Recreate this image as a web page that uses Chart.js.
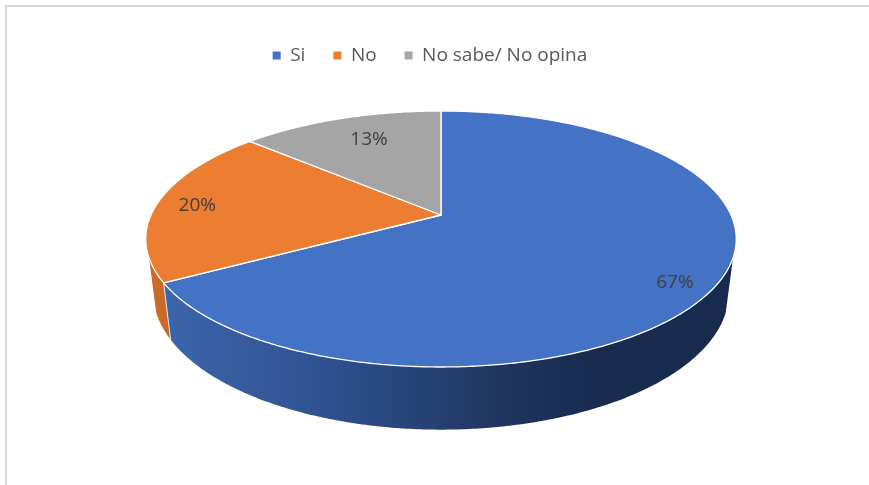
<!DOCTYPE html>
<html><head><meta charset="utf-8">
<style>html,body{margin:0;padding:0;background:#fff}canvas{display:block}</style>
<script src="https://cdn.jsdelivr.net/npm/chart.js@4"></script></head>
<body><canvas id="c" width="869" height="485"></canvas>
<script>
const categories = ["Si", "No", "No sabe/ No opina"];
const values = [66.7, 20, 13.3];
const tickLabels = ["67%", "20%", "13%"];
const topColors = ["#4472c4", "#ed7d31", "#a5a5a5"];
const wallColors = [null, "#c96a28", "#7f7f7f"];

// Tilted-disc projection of the unit circle
const view = {cx: 441, cy: 215, a: 290, b: 123.5, k: 0.1875,
              lowX: 0.975, lowY: 1.07, drop: 52,
              wallFrom: 19 * Math.PI / 180, wallTo: 161 * Math.PI / 180};
const labelRadius = [0.885, 0.855, 0.74];
const labelNudge = [4.2, -1.2, 1.7];

function upperPt(a, r = 1) {
  const u = r * Math.cos(a), v = r * Math.sin(a), d = 1 - view.k * v;
  return [view.cx + view.a * u / d, view.cy + view.b * v / d];
}
function lowerPt(a) {
  const p = upperPt(a);
  return [view.cx + view.lowX * (p[0] - view.cx),
          view.cy + view.drop + view.lowY * (p[1] - view.cy)];
}
function trace(ctx, fn, from, to, start) {
  const n = Math.max(2, Math.ceil(Math.abs(to - from) / 0.01));
  for (let i = 0; i <= n; i++) {
    const p = fn(from + (to - from) * i / n);
    if (i === 0 && start) ctx.moveTo(p[0], p[1]); else ctx.lineTo(p[0], p[1]);
  }
}

const disc3d = {
  id: "disc3d",
  beforeDraw(chart) {
    const ctx = chart.ctx;
    ctx.save();
    ctx.fillStyle = "#fff";
    ctx.fillRect(0, 0, chart.width, chart.height);
    ctx.fillStyle = "#d9d9d9";
    ctx.fillRect(5, 5, chart.width - 5, 2);
    ctx.fillRect(5, 5, 2, chart.height - 5);
    ctx.restore();
  },
  beforeDatasetDraw(chart) {
    const ctx = chart.ctx, arcs = chart.getDatasetMeta(0).data;
    ctx.save();
    ctx.lineJoin = "round";
    // side wall
    const grad = ctx.createLinearGradient(165, 0, 735, 0);
    grad.addColorStop(0, "#3c65ab");
    grad.addColorStop(0.28, "#2f5190");
    grad.addColorStop(0.58, "#203660");
    grad.addColorStop(0.76, "#182b4f");
    grad.addColorStop(1, "#182b4f");
    arcs.forEach((arc, i) => {
      const s = Math.max(arc.startAngle, view.wallFrom);
      const e = Math.min(arc.endAngle, view.wallTo);
      if (e <= s) return;
      ctx.beginPath();
      trace(ctx, upperPt, s, e, true);
      trace(ctx, lowerPt, e, s, false);
      ctx.closePath();
      ctx.fillStyle = i === 0 ? grad : wallColors[i];
      ctx.fill();
      if (i > 0) {
        ctx.beginPath();
        const p = upperPt(s), q = lowerPt(s);
        ctx.moveTo(p[0], p[1]); ctx.lineTo(q[0], q[1]);
        ctx.strokeStyle = "#e8e8e8"; ctx.lineWidth = 1; ctx.stroke();
      }
    });
    // top face
    arcs.forEach((arc, i) => {
      ctx.beginPath();
      ctx.moveTo(view.cx, view.cy);
      trace(ctx, upperPt, arc.startAngle, arc.endAngle, false);
      ctx.closePath();
      ctx.fillStyle = topColors[i];
      ctx.fill();
      ctx.strokeStyle = "#fff"; ctx.lineWidth = 1.3; ctx.stroke();
    });
    // labels
    ctx.font = "19px 'Open Sans'";
    ctx.fillStyle = "#404040";
    ctx.textAlign = "center"; ctx.textBaseline = "middle";
    arcs.forEach((arc, i) => {
      const a = (arc.startAngle + arc.endAngle) / 2 + labelNudge[i] * Math.PI / 180;
      const p = upperPt(a, labelRadius[i]);
      ctx.fillText(tickLabels[i], p[0], p[1]);
    });
    ctx.restore();
    return false;
  }
};

new Chart(document.getElementById("c"), {
  type: "pie",
  data: {labels: categories, datasets: [{data: values, backgroundColor: topColors, borderWidth: 0}]},
  plugins: [disc3d],
  options: {
    responsive: false, animation: false,
    layout: {padding: {top: 18, right: 9}},
    plugins: {
      tooltip: {enabled: false},
      legend: {
        position: "top",
        labels: {usePointStyle: true, pointStyle: "rect", boxWidth: 8, boxHeight: 8,
                 padding: 28, color: "#595959", font: {family: "'Open Sans'", size: 19}}
      }
    }
  }
});
</script></body></html>
